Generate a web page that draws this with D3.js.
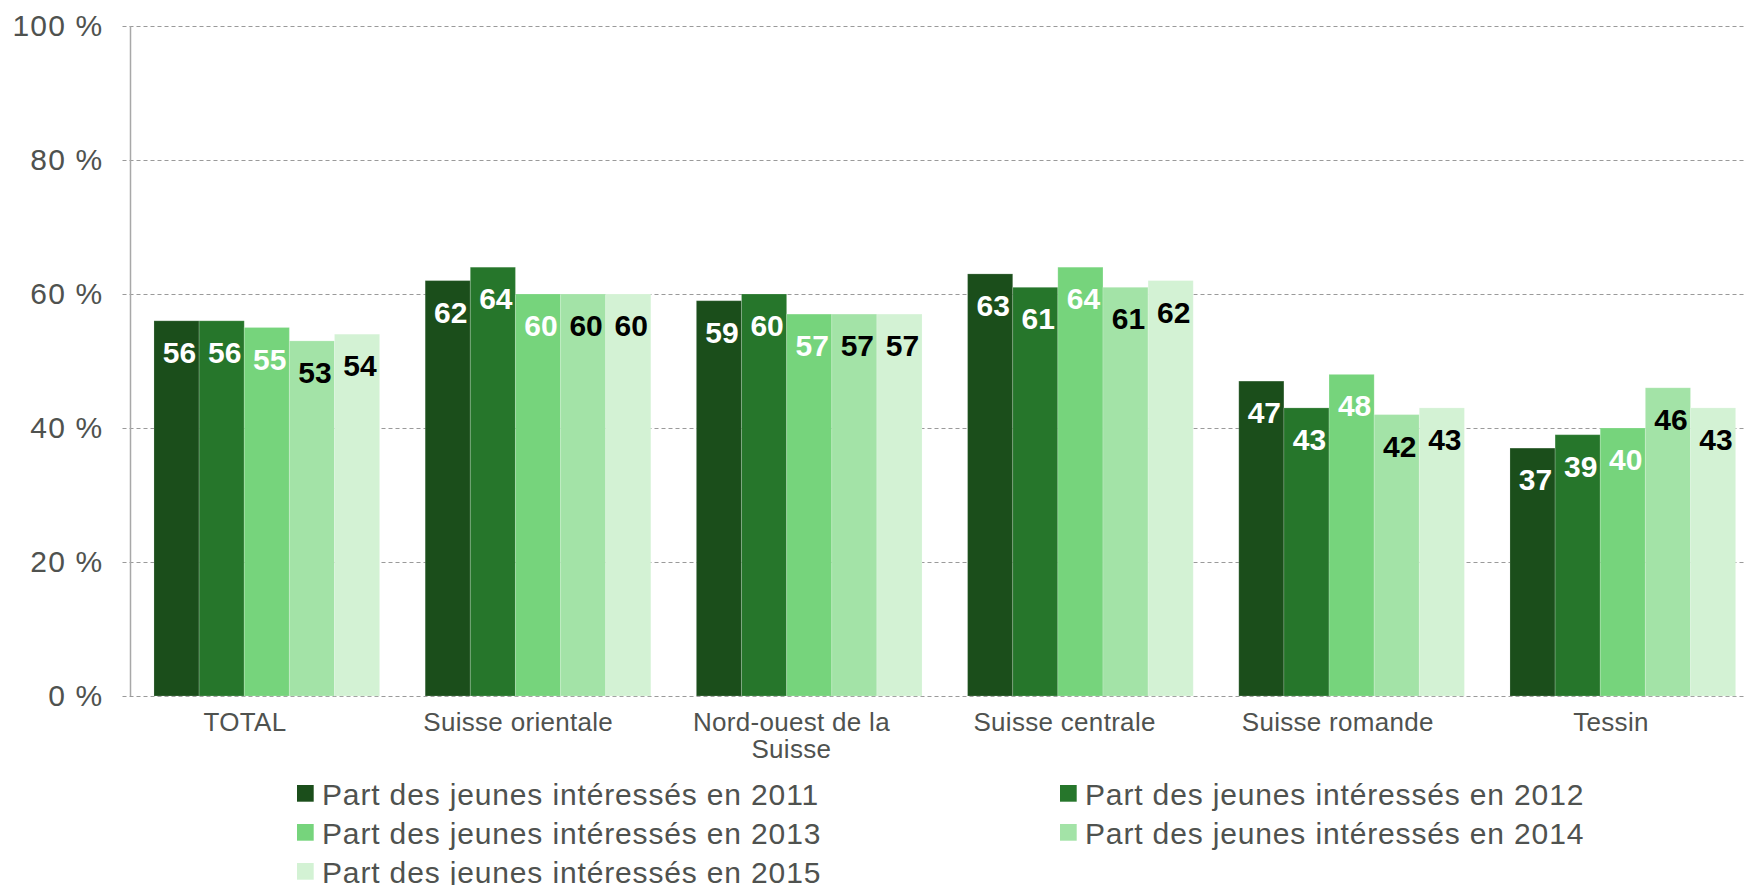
<!DOCTYPE html>
<html>
<head>
<meta charset="utf-8">
<script src="https://cdn.jsdelivr.net/npm/d3@7"></script>
<style>
  html, body { margin: 0; padding: 0; background: #fff; }
  svg { display: block; font-family: "Liberation Sans", Arial, Helvetica, sans-serif; }
</style>
</head>
<body>
<svg id="chart" width="1745" height="885"></svg>
<script>
// Régions (catégories de l'axe horizontal)
const categories = ["TOTAL", "Suisse orientale", "Nord-ouest de la Suisse", "Suisse centrale", "Suisse romande", "Tessin"];
const categoryLines = [["TOTAL"], ["Suisse orientale"], ["Nord-ouest de la", "Suisse"], ["Suisse centrale"], ["Suisse romande"], ["Tessin"]];

// Séries : part des jeunes intéressés (%) par année
const years = ["2011", "2012", "2013", "2014", "2015"];
const values2011 = [56, 62, 59, 63, 47, 37];
const values2012 = [56, 64, 60, 61, 43, 39];
const values2013 = [55, 60, 57, 64, 48, 40];
const values2014 = [53, 60, 57, 61, 42, 46];
const values2015 = [54, 60, 57, 62, 43, 43];
const seriesValues = [values2011, values2012, values2013, values2014, values2015];

const colors = ["#1b4e1b", "#26762b", "#76d47c", "#a3e3a7", "#d3f2d4"];
const labelColors = ["#ffffff", "#ffffff", "#ffffff", "#000000", "#000000"];

const yTicks = [0, 20, 40, 60, 80, 100];

const svg = d3.select("#chart");
const W = 1745;
const axisX = 130.5;
const textColor = "#4f524f";

const y = d3.scaleLinear().domain([0, 100]).range([696, 26]);

const x0 = d3.scaleBand()
  .domain(categories)
  .range([131.2, 1758.4])
  .paddingInner(0.168)
  .paddingOuter(0.084);

const x1 = d3.scaleBand()
  .domain(years)
  .range([0, x0.bandwidth()]);

// Category label positions
const xLabel = d3.scaleBand().domain(categories).range([108.4, 1747.6]);

// Gridlines
svg.append("g")
  .selectAll("line")
  .data(yTicks)
  .join("line")
  .attr("x1", axisX - 8)
  .attr("x2", W)
  .attr("y1", d => Math.round(y(d)) + 0.5)
  .attr("y2", d => Math.round(y(d)) + 0.5)
  .attr("stroke", "#9a9a9a")
  .attr("stroke-width", 1.2)
  .attr("stroke-dasharray", "4,3");

// Y axis
const yAxis = d3.axisLeft(y)
  .tickValues(yTicks)
  .tickFormat(d => d + " %")
  .tickSize(0)
  .tickPadding(27);

const gy = svg.append("g")
  .attr("transform", `translate(${axisX},0)`)
  .call(yAxis);
gy.select(".domain").remove();
gy.selectAll("text")
  .attr("font-size", 30)
  .attr("letter-spacing", 1.2)
  .attr("fill", textColor)
  .attr("font-family", "'Liberation Sans', Arial, sans-serif");

// Bars
const rows = categories.map((c, ci) => ({
  category: c,
  items: years.map((yr, si) => ({ year: yr, si, value: seriesValues[si][ci] }))
}));

const groups = svg.append("g")
  .selectAll("g")
  .data(rows)
  .join("g")
  .attr("transform", d => `translate(${x0(d.category)},0)`);

groups.selectAll("rect")
  .data(d => d.items)
  .join("rect")
  .attr("x", d => x1(d.year))
  .attr("y", d => y(d.value))
  .attr("width", x1.bandwidth())
  .attr("height", d => y(0) - y(d.value))
  .attr("fill", d => colors[d.si])
  .attr("stroke", "rgba(255,255,255,0.18)")
  .attr("stroke-width", 1);

groups.selectAll("text")
  .data(d => d.items)
  .join("text")
  .attr("x", d => x1(d.year) + x1.bandwidth() / 2 + 3)
  .attr("y", d => y(d.value) + 42)
  .attr("text-anchor", "middle")
  .attr("font-size", 30)
  .attr("font-weight", "bold")
  .attr("fill", d => labelColors[d.si])
  .text(d => d.value);

// Vertical axis line
svg.append("line")
  .attr("x1", axisX).attr("x2", axisX)
  .attr("y1", y(100)).attr("y2", y(0))
  .attr("stroke", "#a8a8a8")
  .attr("stroke-width", 1.5);

// Category labels
const catG = svg.append("g");
categories.forEach((c, ci) => {
  const t = catG.append("text")
    .attr("x", xLabel(c) + xLabel.bandwidth() / 2)
    .attr("y", 731)
    .attr("text-anchor", "middle")
    .attr("font-size", 26)
    .attr("letter-spacing", 0.3)
    .attr("fill", textColor);
  categoryLines[ci].forEach((line, li) => {
    t.append("tspan")
      .attr("x", xLabel(c) + xLabel.bandwidth() / 2)
      .attr("dy", li === 0 ? 0 : 27)
      .text(line);
  });
});

// Legend
const legendCols = [297, 1060];
const legendRows = [785, 824, 863];
const legend = svg.append("g")
  .selectAll("g")
  .data(years)
  .join("g")
  .attr("transform", (d, i) => `translate(${legendCols[i % 2]},${legendRows[Math.floor(i / 2)]})`);

legend.append("rect")
  .attr("width", 16.7)
  .attr("height", 16.7)
  .attr("fill", (d, i) => colors[i]);

legend.append("text")
  .attr("x", 25)
  .attr("y", 19.5)
  .attr("font-size", 30)
  .attr("letter-spacing", 0.85)
  .attr("fill", textColor)
  .text(d => "Part des jeunes intéressés en " + d);
</script>
</body>
</html>
